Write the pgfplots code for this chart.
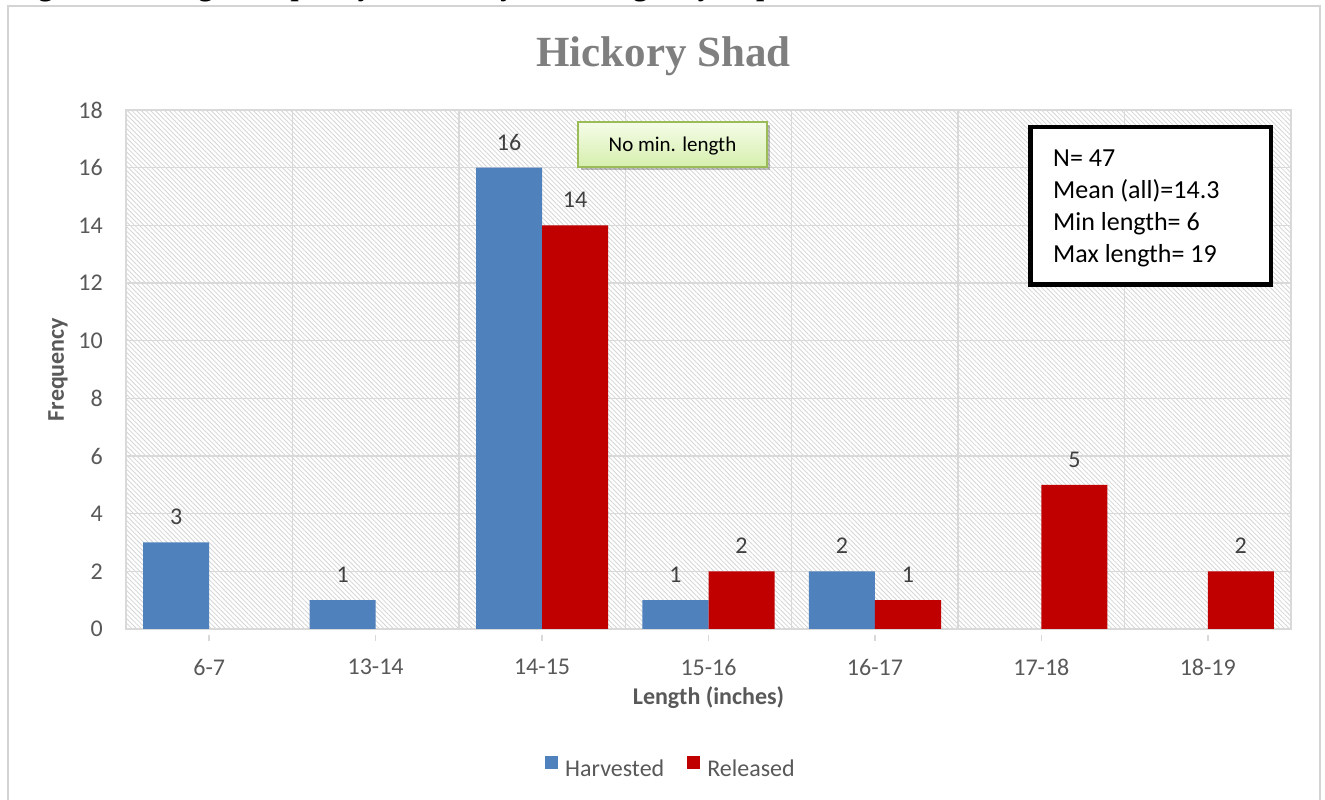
\documentclass[border=0pt]{standalone}
\usepackage{fontspec}
\setmainfont{Carlito}
\newfontfamily\titlefont{Liberation Serif}
\usepackage{pgfplots}
\pgfplotsset{compat=1.18}
\usetikzlibrary{patterns.meta}
\definecolor{gridgray}{HTML}{D9D9D9}
\definecolor{framegray}{HTML}{D4D4D4}
\definecolor{hatch}{HTML}{D6D6D6}
\definecolor{tickgray}{HTML}{595959}
\definecolor{labelgray}{HTML}{404040}
\definecolor{hblue}{HTML}{4F81BD}
\definecolor{rred}{HTML}{C00000}
\definecolor{titlegray}{HTML}{7F7F7F}
\definecolor{boxtop}{HTML}{F5FCE8}
\definecolor{boxbot}{HTML}{D6EFAD}
\definecolor{boxedge}{HTML}{9BBB59}
\begin{document}
\begin{tikzpicture}
\path[use as bounding box] (0,0) rectangle (1325pt,800pt);
\clip (0,0) rectangle (1325pt,800pt);
% cut-off caption line above the chart
\node[font=\titlefont\bfseries\fontsize{29.5}{34}\selectfont, anchor=base west, inner sep=0pt] at (12pt,804pt) {Figure 31. Length frequency of Hickory shad caught by disposition.};
% outer frame
\draw[framegray, line width=2.5pt] (8pt,-10pt) -- (8pt,794pt) -- (1320pt,794pt) -- (1320pt,-10pt);
\fill[white] (9.25pt,-10pt) rectangle (1318.75pt,792.75pt);
% title
\node[font=\titlefont\bfseries\fontsize{43}{50}\selectfont, text=titlegray, anchor=base, inner sep=0pt] at (663.5pt,733pt) {Hickory Shad};
\begin{axis}[
  at={(126pt,171pt)}, anchor=south west,
  scale only axis, width=1165pt, height=519pt,
  xmin=-0.5, xmax=6.5, ymin=0, ymax=18,
  ybar=0pt, bar width=0.397,
  /pgf/number format/assume math mode=true,
  xtick={0,...,6},
  xticklabels={6-7,13-14,14-15,15-16,16-17,17-18,18-19},
  minor xtick={0.5,1.5,...,5.5},
  ytick={0,2,...,18},
  xminorgrids=true, ymajorgrids=true, xmajorgrids=false,
  major grid style={draw=gridgray, line width=1.5pt},
  minor grid style={draw=gridgray, line width=1.5pt},
  axis line style={draw=gridgray, line width=1.5pt},
  xtick pos=bottom, ytick pos=left,
  major tick length=6pt, minor tick length=0pt,
  xtick style={draw=gridgray, line width=1.5pt, yshift=-6pt},
  ytick style={draw=none},
  minor x tick style={draw=none},
  tick label style={font=\fontsize{24}{29}\selectfont, text=tickgray},
  yticklabel style={anchor=east, inner sep=0pt, xshift=-23pt},
  xticklabel style={anchor=north, inner sep=0pt, yshift=-24pt},
  axis background/.style={pattern={Lines[angle=-45,distance=3.3pt,line width=0.8pt]}, pattern color=hatch},
  xlabel={Length (inches)}, ylabel={Frequency},
  every axis x label/.style={at={(axis description cs:0.5,-0.1329)}, anchor=center, font=\bfseries\fontsize{24}{29}\selectfont, text=tickgray},
  every axis y label/.style={at={(axis description cs:-0.0584,0.5)}, rotate=90, anchor=center, font=\bfseries\fontsize{24}{29}\selectfont, text=tickgray},
  nodes near coords,
  nodes near coords style={font=\fontsize{24}{29}\selectfont, text=labelgray, anchor=base, yshift=17.5pt},
  legend style={at={(axis description cs:0.3597,-0.2651)}, anchor=west, draw=none, fill=none, inner sep=0pt,
    nodes={inner sep=0pt},
    legend columns=-1, font=\fontsize{24}{29}\selectfont, text=tickgray,
    /tikz/every odd column/.append style={column sep=7pt},
    /tikz/every even column/.append style={column sep=23pt}},
]
\addplot[fill=hblue, draw=none, legend image code/.code={\fill[hblue] (0pt,0pt) rectangle (13pt,13pt);}]
  coordinates {(0,3) (1,1) (2,16) (3,1) (4,2)};
\addlegendentry{Harvested}
\addplot[fill=rred, draw=none, legend image code/.code={\fill[rred] (0pt,0pt) rectangle (13pt,13pt);}]
  coordinates {(2,14) (3,2) (4,1) (5,5) (6,2)};
\addlegendentry{Released}
\end{axis}
% No min. length box
\fill[black, opacity=0.25] (581pt,675pt) rectangle (770pt,630pt);
\shade[top color=boxtop, bottom color=boxbot] (578pt,678pt) rectangle (767pt,633pt);
\draw[boxedge, line width=1.5pt] (578pt,678pt) rectangle (767pt,633pt);
\node[font=\fontsize{21}{25}\selectfont, anchor=base, inner sep=0pt] at (672.5pt,648pt) {No min. length};
% stats box
\draw[black, line width=4.5pt, fill=white] (1030.25pt,672.75pt) rectangle (1270.75pt,515.25pt);
\node[font=\fontsize{26}{31}\selectfont, anchor=base west, inner sep=0pt] at (1053pt,633pt) {N= 47};
\node[font=\fontsize{26}{31}\selectfont, anchor=base west, inner sep=0pt] at (1053pt,601pt) {Mean (all)=14.3};
\node[font=\fontsize{26}{31}\selectfont, anchor=base west, inner sep=0pt] at (1053pt,569pt) {Min length= 6};
\node[font=\fontsize{26}{31}\selectfont, anchor=base west, inner sep=0pt] at (1053pt,537pt) {Max length= 19};
\end{tikzpicture}
\end{document}
